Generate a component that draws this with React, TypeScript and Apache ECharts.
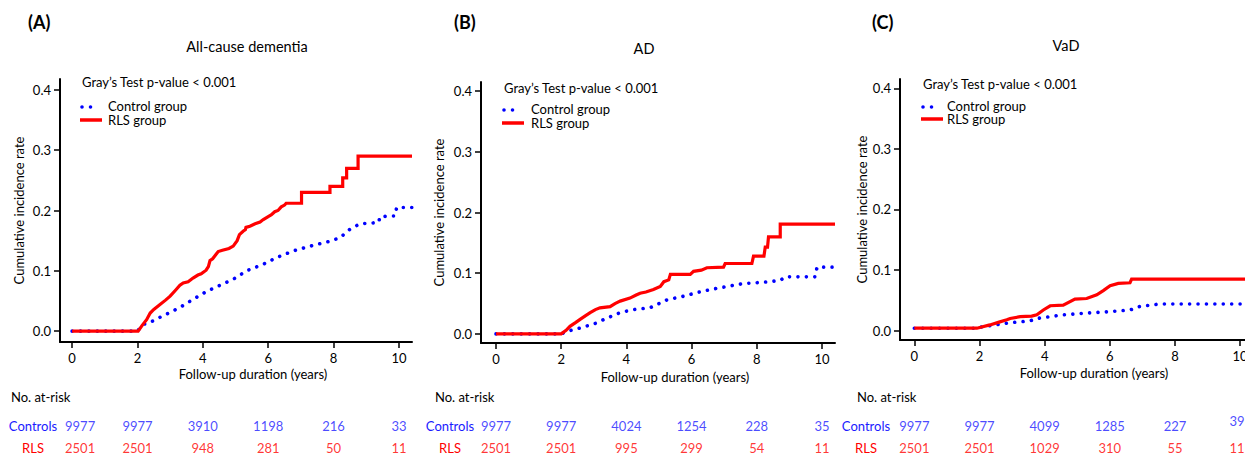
import React, { useEffect, useRef } from "react";
import * as echarts from "echarts";

// ---------- DATA ----------
const xTicks = [0, 2, 4, 6, 8, 10];
const yTicks = [0, 0.1, 0.2, 0.3, 0.4];
const atRiskTimes = [0, 2, 4, 6, 8, 10];

const panelLetters = ["(A)", "(B)", "(C)"];
const panelTitles = ["All-cause dementia", "AD", "VaD"];
const testText = "Gray\u2019s Test p-value < 0.001";
const legendNames = ["Control group", "RLS group"];
const yAxisName = "Cumulative incidence rate";
const xAxisName = "Follow-up duration (years)";
const rowNames = ["Controls", "RLS"];
const atRiskTitle = "No. at-risk";

// Panel A - all-cause dementia
const controlA = [
  [0, 0], [2.0, 0], [2.17, 0.011], [2.48, 0.017], [2.69, 0.023], [3.0, 0.031], [3.35, 0.041],
  [3.71, 0.053], [4.12, 0.066], [4.53, 0.076], [4.93, 0.086], [5.34, 0.1], [5.85, 0.111],
  [6.26, 0.122], [6.77, 0.133], [7.29, 0.141], [7.89, 0.149], [8.2, 0.155], [8.5, 0.169],
  [8.81, 0.178], [9.38, 0.18], [9.42, 0.19], [9.88, 0.191], [9.93, 0.205], [10.4, 0.205],
];
const rlsA = [
  [0, 0], [2.02, 0], [2.15, 0.01], [2.28, 0.019], [2.39, 0.03], [2.5, 0.036], [2.69, 0.044],
  [2.85, 0.051], [3.0, 0.058], [3.15, 0.067], [3.3, 0.076], [3.4, 0.08], [3.55, 0.082],
  [3.7, 0.088], [3.85, 0.093], [3.95, 0.095], [4.1, 0.101], [4.17, 0.107], [4.22, 0.117],
  [4.3, 0.12], [4.4, 0.127], [4.47, 0.132], [4.6, 0.134], [4.8, 0.137], [4.93, 0.141],
  [5.05, 0.15], [5.12, 0.16], [5.24, 0.166], [5.3, 0.168], [5.32, 0.172], [5.44, 0.174],
  [5.6, 0.178], [5.75, 0.181], [5.85, 0.185], [6.0, 0.19], [6.1, 0.193], [6.2, 0.198],
  [6.3, 0.2], [6.4, 0.206], [6.5, 0.209], [6.55, 0.212], [7.02, 0.212], [7.02, 0.23],
  [7.89, 0.23], [7.89, 0.24], [8.28, 0.24], [8.28, 0.254], [8.4, 0.254], [8.4, 0.27],
  [8.75, 0.27], [8.75, 0.29], [10.4, 0.29],
];
const atRiskControlsA = [9977, 9977, 3910, 1198, 216, 33];
const atRiskRlsA = [2501, 2501, 948, 281, 50, 11];

// Panel B - AD
const controlB = [
  [0, 0], [2.0, 0], [2.17, 0.004], [2.6, 0.01], [3.09, 0.018], [3.4, 0.026], [3.81, 0.035],
  [4.2, 0.04], [4.73, 0.043], [5.24, 0.056], [5.75, 0.062], [6.16, 0.068], [6.67, 0.074],
  [7.19, 0.079], [7.59, 0.083], [8.2, 0.085], [8.72, 0.088], [8.87, 0.094], [9.79, 0.094],
  [9.85, 0.11], [10.4, 0.11],
];
const rlsB = [
  [0, 0], [2.0, 0], [2.15, 0.006], [2.27, 0.0125], [2.45, 0.019], [2.58, 0.024], [2.75, 0.03],
  [2.89, 0.035], [3.05, 0.04], [3.19, 0.043], [3.5, 0.045], [3.65, 0.05], [3.81, 0.054],
  [4.11, 0.059], [4.3, 0.064], [4.42, 0.067], [4.6, 0.069], [4.83, 0.073], [5.04, 0.078],
  [5.15, 0.086], [5.3, 0.089], [5.35, 0.098], [5.96, 0.098], [6.06, 0.103], [6.3, 0.105],
  [6.47, 0.109], [6.98, 0.11], [7.03, 0.116], [7.85, 0.116], [7.9, 0.128], [8.22, 0.128],
  [8.26, 0.143], [8.33, 0.143], [8.36, 0.16], [8.72, 0.16], [8.72, 0.181], [10.4, 0.181],
];
const atRiskControlsB = [9977, 9977, 4024, 1254, 228, 35];
const atRiskRlsB = [2501, 2501, 995, 299, 54, 11];

// Panel C - VaD
const controlC = [
  [0, 0.004], [1.95, 0.004], [2.02, 0.0056], [2.94, 0.013], [3.55, 0.016], [3.76, 0.02],
  [4.57, 0.026], [5.29, 0.029], [5.91, 0.031], [6.62, 0.034], [6.93, 0.04], [7.54, 0.044],
  [10.15, 0.044],
];
const rlsC = [
  [0, 0.004], [1.92, 0.004], [2.32, 0.0094], [2.6, 0.014], [2.84, 0.018], [2.94, 0.02],
  [3.25, 0.023], [3.6, 0.024], [3.76, 0.026], [3.96, 0.034], [4.17, 0.041], [4.57, 0.042],
  [4.93, 0.052], [5.29, 0.053], [5.6, 0.059], [5.8, 0.066], [6.01, 0.074], [6.26, 0.078],
  [6.62, 0.079], [6.67, 0.085], [10.15, 0.085],
];
const atRiskControlsC = [9977, 9977, 4099, 1285, 227, 39];
const atRiskRlsC = [2501, 2501, 1029, 310, 55, 11];

// ---------- LAYOUT / STYLE ----------
const FONT = 'Lato, "Liberation Sans", sans-serif';
const BLUE = "#0000ff";
const RED = "#ff0000";
const BLUE_TEXT = "#1a1aff";

const panels = [
  {
    control: controlA, rls: rlsA, ctl: atRiskControlsA, rr: atRiskRlsA,
    grid: { left: 60, top: 79, width: 352, height: 263 },
    xr: [-0.37, 10.4], yr: [-0.018, 0.418],
    letterX: 28, titleX: 247, titleY: 46, testX: 82, testY: 82,
    legX: 80, legTextX: 108, legY1: 106, legY2: 120,
    yNameX: 19, xNameX: 253, xNameY: 374, atX: 11, rowX: 33,
    firstOff: [8, 0], lastOffCtl: [0, 0], lastOffRls: [0, 0],
  },
  {
    control: controlB, rls: rlsB, ctl: atRiskControlsB, rr: atRiskRlsB,
    grid: { left: 481, top: 82, width: 354, height: 261 },
    xr: [-0.46, 10.4], yr: [-0.015, 0.415],
    letterX: 454, titleX: 644, titleY: 48, testX: 504, testY: 88,
    legX: 502, legTextX: 531, legY1: 109, legY2: 123,
    yNameX: 439, xNameX: 675, xNameY: 377, atX: 435, rowX: 450,
    firstOff: [0, 0], lastOffCtl: [0, 0], lastOffRls: [0, 0],
  },
  {
    control: controlC, rls: rlsC, ctl: atRiskControlsC, rr: atRiskRlsC,
    grid: { left: 900, top: 79, width: 345, height: 261 },
    xr: [-0.44, 10.15], yr: [-0.0155, 0.4153],
    letterX: 872, titleX: 1066, titleY: 45, testX: 923, testY: 84,
    legX: 921, legTextX: 947, legY1: 106, legY2: 119,
    yNameX: 862, xNameX: 1094, xNameY: 373, atX: 857, rowX: 866,
    firstOff: [0, 0], lastOffCtl: [-3, -5], lastOffRls: [-3, 0],
  },
];

function buildOption() {
  const grid: any[] = [];
  const xAxis: any[] = [];
  const yAxis: any[] = [];
  const series: any[] = [];
  const graphic: any[] = [];

  panels.forEach((p, i) => {
    grid.push({ ...p.grid, containLabel: false, outerBoundsMode: "none" });
    xAxis.push({
      gridIndex: i, type: "value", min: p.xr[0], max: p.xr[1],
      axisLine: { show: true, onZero: false, lineStyle: { color: "#000", width: 2 } },
      axisTick: { show: true, customValues: xTicks, length: 6, lineStyle: { color: "#000", width: 1.5 } },
      axisLabel: { customValues: xTicks, color: "#000", fontSize: 13, fontFamily: FONT, margin: 9 },
      splitLine: { show: false },
    });
    yAxis.push({
      gridIndex: i, type: "value", min: p.yr[0], max: p.yr[1],
      axisLine: { show: true, onZero: false, lineStyle: { color: "#000", width: 2 } },
      axisTick: { show: true, customValues: yTicks, length: 6, lineStyle: { color: "#000", width: 1.5 } },
      axisLabel: {
        customValues: yTicks, color: "#000", fontSize: 13, fontFamily: FONT, margin: 9,
        formatter: (v: number) => v.toFixed(1),
      },
      splitLine: { show: false },
    });
    series.push({
      type: "line", xAxisIndex: i, yAxisIndex: i, data: p.control, symbol: "none", showSymbol: false,
      lineStyle: { color: BLUE, width: 3.6, type: [0.01, 8.4], cap: "round" }, z: 2,
    });
    series.push({
      type: "line", xAxisIndex: i, yAxisIndex: i, data: p.rls, symbol: "none", showSymbol: false,
      lineStyle: { color: RED, width: 3.2, join: "miter" }, z: 3,
    });
  });

  // at-risk table grids
  panels.forEach((p, i) => {
    const gi = 3 + i;
    grid.push({ left: p.grid.left, width: p.grid.width, top: 426, height: 22, containLabel: false, outerBoundsMode: "none" });
    xAxis.push({ gridIndex: gi, type: "value", min: p.xr[0], max: p.xr[1], show: false });
    yAxis.push({ gridIndex: gi, type: "value", min: 0, max: 1, show: false });
    const mk = (counts: number[], row: number, color: string, lastOff: number[]) => ({
      type: "scatter", xAxisIndex: gi, yAxisIndex: gi, clip: false, silent: true,
      symbolSize: 1, itemStyle: { color: "rgba(0,0,0,0)" },
      data: atRiskTimes.map((t, k) => {
        const item: any = { value: [t, row, counts[k]] };
        if (k === 0) item.label = { offset: p.firstOff };
        if (k === atRiskTimes.length - 1) item.label = { offset: lastOff };
        return item;
      }),
      label: {
        show: true, position: "inside", color, fontSize: 13, fontFamily: FONT,
        formatter: (q: any) => String(q.value[2]),
      },
    });
    series.push(mk(p.ctl, 1, BLUE_TEXT, p.lastOffCtl));
    series.push(mk(p.rr, 0, RED, p.lastOffRls));
  });

  panels.forEach((p, i) => {
    const txt = (x: number, y: number, text: string, extra: any = {}) => ({
      type: "text", x, y,
      style: { text, fontFamily: FONT, fontSize: 13, fill: "#000", textAlign: "left", textVerticalAlign: "middle", ...extra },
    });
    graphic.push(txt(p.letterX, 22, panelLetters[i], { fontSize: 18, fontWeight: "bold" }));
    graphic.push(txt(p.titleX, p.titleY, panelTitles[i], { fontSize: 14.5, textAlign: "center" }));
    graphic.push(txt(p.testX, p.testY, testText));
    graphic.push({
      type: "line", shape: { x1: p.legX + 2, y1: p.legY1 + 1, x2: p.legX + 19, y2: p.legY1 + 1 },
      style: { stroke: BLUE, lineWidth: 3.6, lineDash: [0.01, 8.5], lineCap: "round" },
    });
    graphic.push({
      type: "line", shape: { x1: p.legX, y1: p.legY2, x2: p.legX + 22, y2: p.legY2 },
      style: { stroke: RED, lineWidth: 3.5 },
    });
    graphic.push(txt(p.legTextX, p.legY1, legendNames[0]));
    graphic.push(txt(p.legTextX, p.legY2, legendNames[1]));
    graphic.push({
      type: "text", x: p.yNameX, y: p.grid.top + p.grid.height / 2, rotation: Math.PI / 2,
      style: { text: yAxisName, fontFamily: FONT, fontSize: 13, fill: "#000", textAlign: "center", textVerticalAlign: "middle" },
    });
    graphic.push(txt(p.xNameX, p.xNameY, xAxisName, { textAlign: "center" }));
    graphic.push(txt(p.atX, 397, atRiskTitle));
    graphic.push(txt(p.rowX, 426, rowNames[0], { textAlign: "center", fill: BLUE_TEXT }));
    graphic.push(txt(p.rowX, 448, rowNames[1], { textAlign: "center", fill: RED }));
  });

  return { animation: false, backgroundColor: "#fff", grid, xAxis, yAxis, series, graphic };
}

export default function App() {
  const ref = useRef<HTMLDivElement>(null);
  useEffect(() => {
    if (!ref.current) return;
    const chart = echarts.init(ref.current, undefined, { renderer: "svg" });
    chart.setOption(buildOption() as any);
    return () => chart.dispose();
  }, []);
  return (
    <div
      ref={ref}
      style={{ position: "absolute", left: 0, top: 0, width: 1245, height: 455, background: "#fff" }}
    />
  );
}
